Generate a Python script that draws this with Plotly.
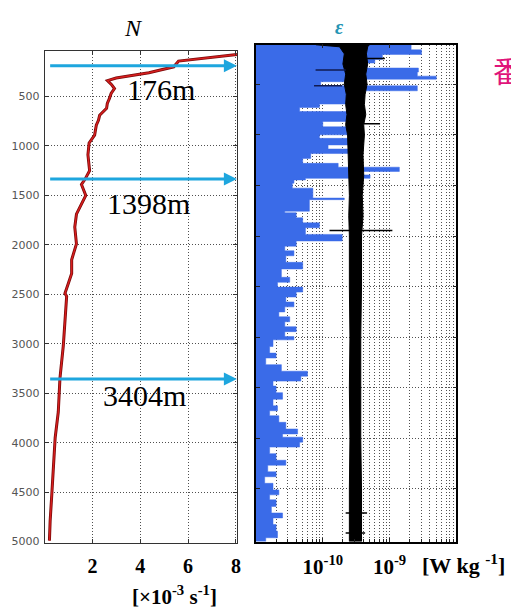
import plotly.graph_objects as go

W, H = 511, 609

# ---------------- data ----------------
# Buoyancy frequency N profile (x 10^-3 s^-1) vs depth (m)
n_depth = [40, 75, 142, 200, 260, 313, 340, 380, 420, 470, 520, 570, 620, 690, 740, 790, 890, 970,
           1090, 1250, 1340, 1390, 1500, 1620, 1690, 1820, 1990, 2150, 2290, 2390,
           2490, 2520, 2790, 3020, 3350, 3690, 3950, 4190, 4520, 4790, 4990]
n_value = [8.9, 8.04, 5.6, 5.4, 4.36, 2.99, 2.63, 2.8, 2.92, 2.78, 2.71, 2.62, 2.59, 2.30, 2.25, 2.16,
           2.09, 1.86, 1.81, 1.88, 1.68, 1.54, 1.72, 1.47, 1.33, 1.26, 1.33, 1.13, 1.13, 0.99,
           0.85, 0.92, 0.85, 0.78, 0.64, 0.57, 0.44, 0.37, 0.30, 0.23, 0.20]

# Dissipation rate epsilon (W/kg): bin top depths and values
eps_depth_top = [108, 160, 205, 255, 290, 340, 380, 420, 450, 475, 516, 565, 696, 730, 770,
                 868, 921, 1000, 1035, 1100, 1140, 1185, 1233, 1282, 1320, 1362, 1396, 1430,
                 1446, 1478, 1527, 1625, 1641, 1755, 1770, 1820, 1870, 1918, 1984, 2049, 2100,
                 2146, 2195, 2260, 2326, 2408, 2457, 2505, 2554, 2603, 2652, 2700, 2750, 2798,
                 2847, 2896, 2945, 2994, 3026, 3092, 3157, 3206, 3271, 3336, 3385, 3434, 3483,
                 3548, 3613, 3678, 3727, 3776, 3841, 3907, 3956, 3988, 4037, 4086, 4151, 4216,
                 4265, 4330, 4379, 4444, 4509, 4558, 4607, 4672, 4737, 4786, 4851, 4917, 4982]
eps_value = [2.1e-9, 3.0e-9, 7.8e-10, 6.0e-10, 4.6e-10, 2.7e-9, 2.6e-9, 5.0e-9, 4.0e-10, 9.3e-11,
             2.6e-9, 2.8e-10, 8.9e-11, 4.5e-11, 2.5e-10,
             1.0e-10, 2.5e-10, 8.9e-11, 2.5e-10, 1.2e-10, 2.5e-10, 6.6e-11, 5.0e-11, 1.7e-10,
             1.4e-9, 2.5e-10, 5.1e-10, 5.5e-11,
             3.7e-11, 3.5e-11, 7.1e-11, 2.1e-10, 6.3e-11, 2.7e-11, 4.0e-11, 5.0e-11, 8.9e-11,
             5.5e-11, 1.95e-10, 4.0e-11, 2.7e-11,
             3.7e-11, 2.8e-11, 5.0e-11, 2.4e-11, 3.2e-11, 2.1e-11, 5.0e-11, 4.0e-11, 2.8e-11,
             3.7e-11, 2.7e-11, 2.2e-11, 3.2e-11,
             2.7e-11, 4.0e-11, 2.7e-11, 3.7e-11, 1.8e-11, 1.6e-11, 2.0e-11, 1.4e-11, 2.4e-11,
             5.9e-11, 4.7e-11, 1.8e-11, 2.0e-11,
             2.5e-11, 1.8e-11, 2.1e-11, 1.6e-11, 2.2e-11, 2.8e-11, 4.2e-11, 2.5e-11, 5.0e-11,
             4.5e-11, 1.6e-11, 2.0e-11, 2.8e-11,
             1.5e-11, 2.0e-11, 1.35e-11, 1.8e-11, 2.2e-11, 1.6e-11, 2.0e-11, 1.7e-11, 2.5e-11,
             1.8e-11, 2.0e-11, 2.1e-11, 1.4e-11]
eps_depth_end = 5020

# Noise-floor band (black): depth, left edge, right edge (W/kg)
band_depth = [110, 130, 200, 300, 400, 500, 600, 700, 800, 900, 1000, 1200, 1400, 1600,
              1800, 2000, 2500, 3000, 3500, 4000, 4500, 5020]
band_left = [7.9e-11, 1.78e-10, 2.1e-10, 2.0e-10, 2.2e-10, 2.1e-10, 2.25e-10, 2.2e-10,
             2.3e-10, 2.2e-10, 2.35e-10, 2.4e-10, 2.45e-10, 2.5e-10, 2.45e-10, 2.5e-10,
             2.5e-10, 2.55e-10, 2.5e-10, 2.55e-10, 2.5e-10, 2.5e-10]
band_right = [5.0e-10, 4.7e-10, 4.5e-10, 4.7e-10, 4.4e-10, 4.6e-10, 4.3e-10, 4.2e-10,
              4.4e-10, 4.1e-10, 4.2e-10, 4.0e-10, 4.1e-10, 3.9e-10, 4.0e-10, 3.8e-10,
              3.8e-10, 3.7e-10, 3.7e-10, 3.7e-10, 3.8e-10, 3.8e-10]

# Individual spikes on the noise floor
spike_depth = [246, 891, 1945, 4737, 4936]
spike_left = [4.6e-10, 4.1e-10, 1.26e-10, 2.2e-10, 2.2e-10]
spike_right = [8.5e-10, 7.2e-10, 1.1e-9, 4.6e-10, 4.3e-10]
navy_depth = [359, 515]
navy_left = [7.8e-11, 7.4e-11]
navy_right = [2.2e-10, 1.95e-10]

# Arrows and depth labels
arrow_depth = [190, 1335, 3355]
arrow_start = 0.23
arrow_end = 8.04
arrow_label = ["176m", "1398m", "3404m"]

n_ticks = [2, 4, 6, 8]
depth_ticks = [500, 1000, 1500, 2000, 2500, 3000, 3500, 4000, 4500, 5000]
eps_major = [1e-10, 1e-9]
eps_major_text = ["10<sup>-10</sup>", "10<sup>-9</sup>"]

# ---------------- helpers ----------------
def px(x):
    return x / W


def py(y):
    return 1 - y / H


SERIF = "Liberation Serif, Times New Roman, serif"
ARROW = "#1ea6de"

fig = go.Figure()

# N profile (left panel)
fig.add_trace(go.Scatter(x=n_value, y=n_depth, mode="lines",
                         line=dict(color="#7a0b0b", width=3.0),
                         xaxis="x", yaxis="y", hoverinfo="skip", showlegend=False))
fig.add_trace(go.Scatter(x=n_value, y=n_depth, mode="lines",
                         line=dict(color="#d81e1e", width=1.4),
                         xaxis="x", yaxis="y", showlegend=False))

# arrows (left panel)
for d in arrow_depth:
    fig.add_trace(go.Scatter(x=[arrow_start, arrow_end - 0.3], y=[d, d], mode="lines",
                             line=dict(color=ARROW, width=3), xaxis="x", yaxis="y",
                             showlegend=False, hoverinfo="skip"))
    fig.add_trace(go.Scatter(x=[arrow_end], y=[d], mode="markers",
                             marker=dict(symbol="arrow-right", size=13, color=ARROW,
                                         line=dict(width=0)),
                             cliponaxis=False, xaxis="x", yaxis="y",
                             showlegend=False, hoverinfo="skip"))

# epsilon step polygon (right panel)
base = 1e-12
sx, sy = [base], [eps_depth_top[0]]
for i, v in enumerate(eps_value):
    top = eps_depth_top[i]
    bot = eps_depth_top[i + 1] if i + 1 < len(eps_depth_top) else eps_depth_end
    sx += [v, v]
    sy += [top, bot]
sx.append(base)
sy.append(eps_depth_end)
fig.add_trace(go.Scatter(x=sx, y=sy, mode="lines", fill="toself",
                         fillcolor="#3a6be8", line=dict(color="#3a6be8", width=0.5),
                         xaxis="x2", yaxis="y2", showlegend=False))

# noise band
bx = band_left + band_right[::-1]
by = band_depth + band_depth[::-1]
fig.add_trace(go.Scatter(x=bx, y=by, mode="lines", fill="toself", fillcolor="black",
                         line=dict(color="black", width=1),
                         xaxis="x2", yaxis="y2", showlegend=False))

# spikes
kx, ky = [], []
for d, a, b in zip(spike_depth, spike_left, spike_right):
    kx += [a, b, None]
    ky += [d, d, None]
fig.add_trace(go.Scatter(x=kx, y=ky, mode="lines", line=dict(color="black", width=1.5),
                         xaxis="x2", yaxis="y2", showlegend=False))
nx, ny = [], []
for d, a, b in zip(navy_depth, navy_left, navy_right):
    nx += [a, b, None]
    ny += [d, d, None]
fig.add_trace(go.Scatter(x=nx, y=ny, mode="lines", line=dict(color="#101a50", width=1.5),
                         xaxis="x3", yaxis="y2", showlegend=False))

# ---------------- axes ----------------
grid = dict(showgrid=True, gridcolor="#505050", griddash="1px,2px", gridwidth=1)

# minor log positions (2..9 x 10^n)
eps_minor = [m * 10.0 ** e for e in (-11, -10, -9) for m in range(2, 10)]

fig.update_layout(
    width=W, height=H,
    margin=dict(l=0, r=0, t=0, b=0),
    paper_bgcolor="white", plot_bgcolor="white",
    showlegend=False,
    xaxis=dict(domain=[px(45), px(239)], range=[0, 8.05], tickvals=n_ticks,
               ticks="inside", ticklen=4, tickcolor="#333",
               showline=True, linecolor="#333", linewidth=1, mirror="ticks",
               tickfont=dict(family=SERIF, size=20, color="black", weight="bold"),
               ticklabelstandoff=5, zeroline=False, anchor="y", **grid),
    yaxis=dict(domain=[py(548), py(52)], range=[5010, 45], tickvals=depth_ticks,
               ticks="inside", ticklen=4, tickcolor="#333",
               showline=True, linecolor="#333", linewidth=1, mirror="ticks",
               tickfont=dict(family="DejaVu Sans, sans-serif", size=11, color="#555"),
               ticklabelstandoff=2, zeroline=False, anchor="x", **grid),
    xaxis2=dict(domain=[px(258), px(460)], type="log", range=[-11, -8],
                tickvals=eps_major, ticktext=eps_major_text,
                ticks="inside", ticklen=4, tickcolor="#222",
                showline=True, linecolor="black", linewidth=1.5, mirror="ticks",
                tickfont=dict(family=SERIF, size=21, color="black", weight="bold"),
                ticklabelstandoff=5, zeroline=False, anchor="y2", **grid),
    xaxis3=dict(overlaying="x2", type="log", range=[-11, -8], tickvals=eps_minor,
                showticklabels=False, ticks="inside", ticklen=3, tickcolor="#222",
                showline=False, zeroline=False, anchor="y2", side="bottom", **grid),
    yaxis2=dict(domain=[py(547), py(45)], range=[5020, 108], tickvals=depth_ticks[:-1],
                ticks="inside", ticklen=4, tickcolor="#222", showticklabels=False,
                showline=True, linecolor="black", linewidth=1.5, mirror="ticks",
                zeroline=False, anchor="x2", **grid),
)

ann = []
label_pos = [(162, 90), (150, 206), (146, 399)]
for (lx, ly), t in zip(label_pos, arrow_label):
    ann.append(dict(x=px(lx), y=py(ly), xref="paper", yref="paper", text=t, showarrow=False,
                    font=dict(family=SERIF, size=30, color="black"),
                    xanchor="center", yanchor="middle"))
# titles and units
ann.append(dict(x=px(135), y=py(28), xref="paper", yref="paper", text="<i>N</i>",
                showarrow=False, font=dict(family=SERIF, size=24, color="black"),
                xanchor="center", yanchor="middle"))
ann.append(dict(x=px(342), y=py(27), xref="paper", yref="paper", text="<b><i>ε</i></b>",
                showarrow=False, font=dict(family=SERIF, size=20, color="#2595b5"),
                xanchor="center", yanchor="middle"))
ann.append(dict(x=px(176), y=py(601), xref="paper", yref="paper",
                text="<b>[×10<sup>-3</sup> s<sup>-1</sup>]</b>",
                showarrow=False, font=dict(family=SERIF, size=21, color="black"),
                xanchor="center", yanchor="middle"))
ann.append(dict(x=px(467), y=py(570), xref="paper", yref="paper",
                text="<b>[W kg <sup>-1</sup>]</b>",
                showarrow=False, font=dict(family=SERIF, size=22, color="black"),
                xanchor="center", yanchor="middle"))
ann.append(dict(x=px(495), y=py(70), xref="paper", yref="paper", text="番",
                showarrow=False,
                font=dict(family="Noto Sans CJK SC, sans-serif", size=30, color="#e0157a"),
                xanchor="left", yanchor="middle"))
fig.update_layout(annotations=ann)

fig.write_html("out.html", config={"displayModeBar": False},
               post_script="document.body.style.margin='0';")
